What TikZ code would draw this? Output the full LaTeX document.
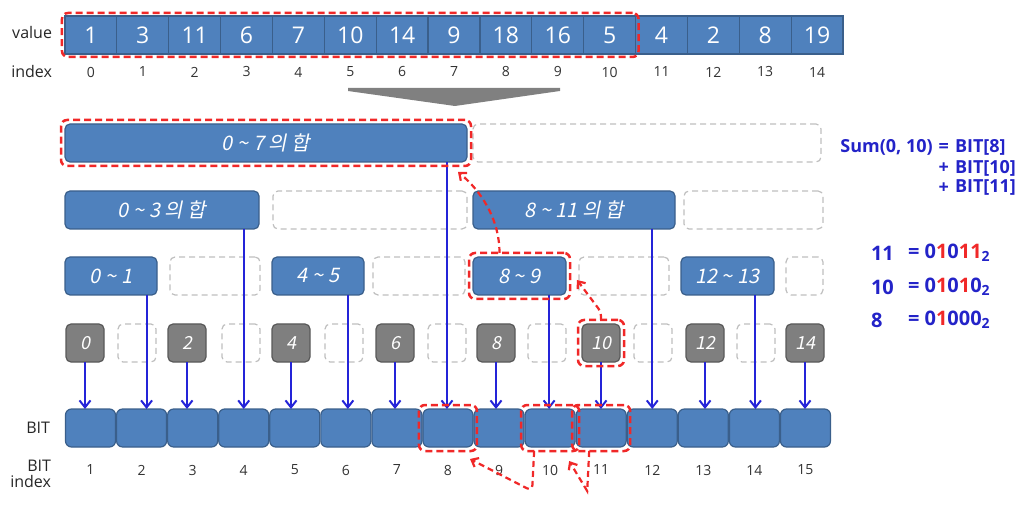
\documentclass[tikz,border=0pt]{standalone}
\usepackage{fontspec}
\setmainfont{Open Sans}
\newfontfamily\krit[FakeSlant=0.2]{Noto Sans CJK KR}
\usetikzlibrary{arrows.meta, positioning, fit}

\definecolor{cellblue}{HTML}{4F81BD}
\definecolor{cellline}{HTML}{3A5F8B}
\definecolor{leafgray}{HTML}{7F7F7F}
\definecolor{leafline}{HTML}{595959}
\definecolor{emptyline}{HTML}{BFBFBF}
\definecolor{markred}{HTML}{F02828}
\definecolor{arrblue}{HTML}{2424D8}
\definecolor{txtblue}{HTML}{2323C8}
\newcommand{\redbit}[1]{\textcolor{markred}{#1}}

\begin{document}
\begin{tikzpicture}[
    x=1pt, y=-1pt,
    every node/.style={inner sep=0pt, outer sep=0pt},
    valcell/.style={draw=cellline, line width=1.2pt, fill=cellblue, minimum width=51.87pt,
        minimum height=38pt, text=white, font=\fontsize{23}{23}\selectfont},
    sumbox/.style={draw=cellline, line width=1.2pt, fill=cellblue, rounded corners=5pt,
        minimum height=38pt, text=white, font=\krit\fontsize{20}{20}\selectfont},
    emptybox/.style={draw=emptyline, line width=1.2pt, dash pattern=on 6pt off 4pt,
        rounded corners=5pt, minimum height=38pt},
    leafbox/.style={draw=leafline, line width=1.2pt, fill=leafgray, rounded corners=5pt,
        minimum width=38pt, minimum height=38pt, text=white, font=\krit\fontsize{18}{18}\selectfont},
    bitcell/.style={draw=cellline, line width=1.2pt, fill=cellblue, rounded corners=6pt,
        minimum width=50pt, minimum height=38pt},
    redmark/.style={draw=markred, line width=2.5pt, dash pattern=on 7pt off 4pt,
        rounded corners=6pt, inner sep=4pt},
    idx/.style={text=black!80, font=\fontsize{14}{14}\selectfont},
    lbl/.style={text=black!85, font=\fontsize{16}{16}\selectfont, align=right},
    downarr/.style={draw=arrblue, line width=2pt, -{Straight Barb[length=7pt, width=11pt]}},
    redarr/.style={draw=markred, line width=2.2pt, dash pattern=on 6pt off 4pt,
        -{Straight Barb[length=6pt, width=10pt]}},
    sumtxt/.style={text=txtblue, font=\bfseries\fontsize{18}{18}\selectfont},
    bintxt/.style={text=txtblue, font=\bfseries\fontsize{20}{20}\selectfont}
    ]
    \useasboundingbox (0,0) rectangle (1021,505);

    % Value array
    \node[lbl, anchor=east] (vallbl) at (52,33) {value};
    \node[lbl, anchor=east] (idxlbl) at (52,72) {index};
    \foreach \v [count=\i from 0] in {1,3,11,6,7,10,14,9,18,16,5,4,2,8,19} {
        \node[valcell] (v\i) at ({90.93+\i*51.87},35) {\v};
        \node[idx] (vi\i) at ({90.93+\i*51.87},72) {\i};
    }

    % Funnel
    \fill[black!50] (348,88) -- (560,88) -- (560,91) -- (455,106) -- (348,91) -- cycle;

    % Tree levels
    \node[sumbox, minimum width=402pt] (t07) at (266,143) {0 \textasciitilde{} 7 의 합};
    \node[emptybox, minimum width=348pt] (e1) at (647,143) {};

    \node[sumbox, minimum width=194pt] (t03) at (162,210) {0 \textasciitilde{} 3 의 합};
    \node[emptybox, minimum width=194pt] (e2a) at (370,210) {};
    \node[sumbox, minimum width=202pt] (t811) at (574,210) {8 \textasciitilde{} 11 의 합};
    \node[emptybox, minimum width=139pt] (e2b) at (753.5,210) {};

    \node[sumbox, minimum width=92pt] (t01) at (111,276) {0 \textasciitilde{} 1};
    \node[emptybox, minimum width=90pt] (e3a) at (215,276) {};
    \node[sumbox, minimum width=92pt] (t45) at (318,276) {4 \textasciitilde{} 5};
    \node[emptybox, minimum width=92pt] (e3b) at (419,276) {};
    \node[sumbox, minimum width=93pt] (t89) at (519.5,276) {8 \textasciitilde{} 9};
    \node[emptybox, minimum width=90pt] (e3c) at (624,276) {};
    \node[sumbox, minimum width=93pt] (t1213) at (727.5,276) {12 \textasciitilde{} 13};
    \node[emptybox, minimum width=37pt] (e3d) at (804.5,276) {};

    \foreach \x [count=\i] in {85,137,187,241,291,344,395,447,496,547,601,653,705,756,805} {
        \ifodd\i
            \pgfmathtruncatemacro\lbl{\i-1}
            \node[leafbox] (l\i) at (\x,343) {\lbl};
        \else
            \node[emptybox, minimum width=38pt] (l\i) at (\x,343) {};
        \fi
    }

    % BIT array
    \node[lbl, anchor=east] (bitlbl) at (50,428) {BIT};
    \node[lbl, anchor=east] (bitidxlbl) at (51,474) {BIT\\index};
    \foreach \i in {1,...,15} {
        \node[bitcell] (b\i) at ({90.5+(\i-1)*51.07},428) {};
        \node[idx] (bi\i) at ({90.5+(\i-1)*51.07},470) {\i};
    }

    % Arrows
    \foreach \i in {1,3,...,15}
        \draw[downarr] (l\i.south) -- (l\i.south |- b\i.north);
    \foreach \t/\b/\s in {t01/2/5, t03/4/0, t45/6/2, t07/8/-1, t89/10/-1, t811/12/0, t1213/14/1}
        \draw[downarr] ([xshift=\s pt]\t.south -| b\b.north) -- ([xshift=\s pt]b\b.north);

    % Red marks
    \node[redmark, fit=(v0)(v10), inner sep=3pt] (rval) {};
    \node[redmark, fit=(t07)] (r07) {};
    \node[redmark, fit=(t89)] (r89) {};
    \node[redmark, fit=(l11)] (r10) {};
    \node[redmark, fit=(b8)] (rb8) {};
    \node[redmark, fit=(b10)] (rb10) {};
    \node[redmark, fit=(b11)] (rb11) {};

    \draw[redarr] ([xshift=-20pt]r89.north) .. controls +(0,-35) and +(22,18) .. ([shift={(-13pt,-6pt)}]r07.south east);
    \draw[redarr, rounded corners=4pt] (r10.north) -- ++(0,-8) -- ([shift={(7pt,-4pt)}]r89.east);
    \draw[redarr, rounded corners=6pt] ([xshift=-16pt]rb10.south) -- ++(-2,40) -- ([shift={(-7pt,-8pt)}]rb8.south east);
    \draw[redarr] ([xshift=-12pt]rb11.south) -- ++(-2,40) -- ([shift={(-10pt,-10pt)}]rb10.south east);

    % Sum text
    \node[sumtxt, anchor=east] (sumlhs) at (949,147) {Sum(0, 10)\,\,=};
    \node[sumtxt, anchor=west] (sum8) at (955,147) {BIT[8]};
    \node[sumtxt, anchor=east] (plus10) at (949,168) {+};
    \node[sumtxt, anchor=west] (sum10) at (955,168) {BIT[10]};
    \node[sumtxt, anchor=east] (plus11) at (949,188) {+};
    \node[sumtxt, anchor=west] (sum11) at (955,188) {BIT[11]};

    % Binary text
    \node[bintxt, anchor=west] (n11) at (871,253) {11};
    \node[bintxt, anchor=west] (bin11) at (908,253) {= 0\redbit{1}0\redbit{11}\textsubscript{2}};
    \node[bintxt, anchor=west] (n10) at (871,287) {10};
    \node[bintxt, anchor=west] (bin10) at (908,287) {= 0\redbit{1}0\redbit{1}0\textsubscript{2}};
    \node[bintxt, anchor=west] (n8) at (871,320) {8};
    \node[bintxt, anchor=west] (bin8) at (908,320) {= 0\redbit{1}000\textsubscript{2}};
\end{tikzpicture}
\end{document}
